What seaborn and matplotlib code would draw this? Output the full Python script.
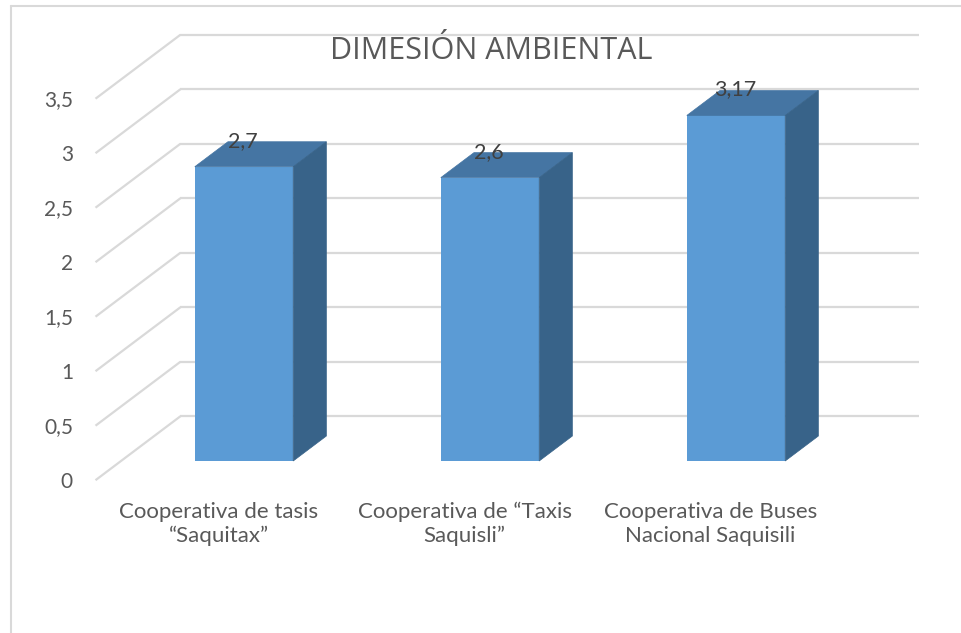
import matplotlib
matplotlib.use("Agg")
import matplotlib.pyplot as plt
from matplotlib.patches import Polygon
import seaborn as sns
import pandas as pd
import numpy as np

# ---- data ----
categories = ["Cooperativa de tasis\n\u201cSaquitax\u201d",
              "Cooperativa de \u201cTaxis\nSaquisli\u201d",
              "Cooperativa de Buses\nNacional Saquisili"]
values = [2.7, 2.6, 3.17]
value_labels = ["2,7", "2,6", "3,17"]
y_ticks = [0, 0.5, 1, 1.5, 2, 2.5, 3, 3.5]
y_tick_labels = ["0", "0,5", "1", "1,5", "2", "2,5", "3", "3,5"]
title = "DIMESIÓN AMBIENTAL"

# ---- style ----
sns.set_theme(style="white")
plt.rcParams["font.family"] = ["Lato", "DejaVu Sans"]
TXT = "#595959"
GRID = "#D9D9D9"
FRONT = "#5B9BD5"
TOP = "#4575A3"
SIDE = "#386389"

W, H = 961, 633
fig = plt.figure(figsize=(W / 100, H / 100), dpi=100)
ax = fig.add_axes([0, 0, 1, 1])

# pixel mapping: x_px = 244 + 246*x ; y_px(top) = 461 - 109*v
XPX, X0 = 246.0, 244.0
YPX, Y0 = 109.0, 461.0
ax.set_xlim(-X0 / XPX, (W - X0) / XPX)
ax.set_ylim((Y0 - H) / YPX, Y0 / YPX)

# depth geometry (in data units)
full_dx, full_dy = 85 / XPX, 64 / YPX     # floor depth (front->back)
t_bar0, t_bar1 = 0.30, 0.69               # bar depth range
bar_w = 0.40

def shift(t):
    return (t - t_bar0) * full_dx, (t - t_bar0) * full_dy

# gridlines: back wall + floor/side diagonals
bx, by = shift(1.0)
fx, fy = shift(0.0)
for v in y_ticks:
    ax.plot([-0.5 + bx, 2.5 + bx], [v + by, v + by], color=GRID, lw=1.6,
            zorder=1, solid_capstyle="butt")
    ax.plot([-0.5 + fx, -0.5 + bx], [v + fy, v + by], color=GRID, lw=1.6,
            zorder=1, solid_capstyle="butt")

# front faces via seaborn
df = pd.DataFrame({"cat": categories, "val": values})
sns.barplot(data=df, x="cat", y="val", color=FRONT, width=bar_w,
            saturation=1, ax=ax, zorder=3, linewidth=0)
ax.set_xlim(-X0 / XPX, (W - X0) / XPX)
ax.set_ylim((Y0 - H) / YPX, Y0 / YPX)

ddx, ddy = (t_bar1 - t_bar0) * full_dx, (t_bar1 - t_bar0) * full_dy
for i, v in enumerate(values):
    l, r = i - bar_w / 2, i + bar_w / 2
    top = Polygon([[l, v], [r, v], [r + ddx, v + ddy], [l + ddx, v + ddy]],
                  closed=True, facecolor=TOP, edgecolor=TOP, lw=0.5, zorder=3)
    side = Polygon([[r, 0], [r, v], [r + ddx, v + ddy], [r + ddx, ddy]],
                   closed=True, facecolor=SIDE, edgecolor=SIDE, lw=0.5, zorder=3)
    ax.add_patch(top)
    ax.add_patch(side)
    ax.text(i - 0.005, v + ddy + 1 / YPX, value_labels[i], ha="center",
            va="center", fontsize=15.5, color="#404040", zorder=5)

# y tick labels
for v, lab in zip(y_ticks, y_tick_labels):
    ax.text((73 - X0) / XPX, v + fy - 1.5 / YPX, lab, ha="right", va="center",
            fontsize=15, color=TXT)

# category labels
for i, c in enumerate(categories):
    ax.text(i + fx, (Y0 - 524) / YPX, c, ha="center", va="center",
            fontsize=16, color=TXT, linespacing=1.2)

# title
ax.text((491 - X0) / XPX, (Y0 - 59) / YPX, title, ha="center", va="baseline",
        fontsize=22, color=TXT, family=["Open Sans", "DejaVu Sans"])

# chart border (top and left visible)
ax.plot([(11 - X0) / XPX, (W - X0) / XPX], [(Y0 - 6) / YPX] * 2,
        color=GRID, lw=1.5, zorder=1)
ax.plot([(11 - X0) / XPX] * 2, [(Y0 - 6) / YPX, (Y0 - H) / YPX],
        color=GRID, lw=1.5, zorder=1)

ax.axis("off")
fig.savefig("out.png", dpi=100)
